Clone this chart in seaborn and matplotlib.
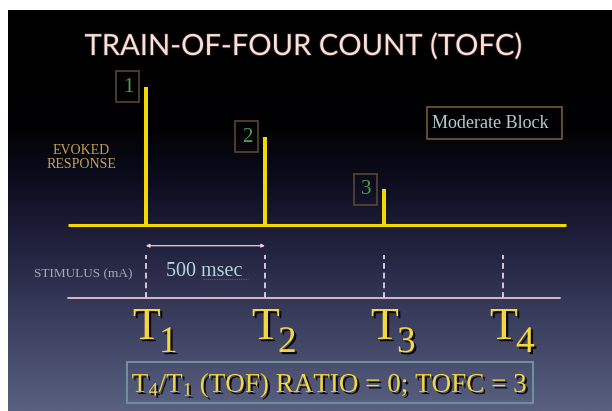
import numpy as np
import pandas as pd
import matplotlib
matplotlib.use("Agg")
import matplotlib.pyplot as plt
import seaborn as sns
from matplotlib import patheffects, transforms
from matplotlib.patches import Rectangle, FancyArrowPatch

# Evoked twitch responses to the four stimuli of a train-of-four (arbitrary units)
stimulus_index = ["1", "2", "3", "4"]
stimulus_time_ms = [0, 500, 1000, 1500]
twitch_response = [100, 64, 26, 0]

title_text = "TRAIN-OF-FOUR COUNT (TOFC)"
block_text = "Moderate Block"
response_label = "EVOKED\nRESPONSE"
stimulus_label = "STIMULUS (mA)"
interval_text = "500 msec"

sns.set_theme(style="white")
plt.rcParams["font.family"] = ["Liberation Serif", "DejaVu Serif"]
plt.rcParams["mathtext.fontset"] = "custom"
plt.rcParams["mathtext.rm"] = "Liberation Serif"
plt.rcParams["mathtext.it"] = "Liberation Serif:italic"
plt.rcParams["mathtext.bf"] = "Liberation Serif:bold"

W, H = 612, 411
fig = plt.figure(figsize=(W / 100, H / 100), dpi=100, facecolor="white")


def fx(px):
    return px / W


def fy(py):
    return 1 - py / H


PANEL = [fx(8), 0.0, 1 - fx(8), fy(10)]

YELLOW = "#f3d900"
TEXT_YELLOW = "#f4d63e"
STIM_COL = "#d9c6dc"
BOX_EDGE = "#5e4c30"
DIGIT_GREEN = "#4f9d50"

# slide background: black fading into slate blue
bg = fig.add_axes(PANEL)
stops_y = np.array([10, 130, 180, 230, 280, 330, 380, 411], float)
stops_c = np.array([[0, 0, 0], [2, 2, 4], [12, 12, 30], [28, 28, 54],
                    [44, 46, 76], [62, 66, 98], [78, 84, 116], [90, 96, 128]], float) / 255
rows = np.linspace(10, 411, 401)
grad = np.stack([np.interp(rows, stops_y, stops_c[:, k]) for k in range(3)], axis=-1)[:, None, :]
bg.imshow(grad, aspect="auto", extent=[0, 1, 0, 1], interpolation="bilinear")
bg.set_axis_off()

# main axes: x in milliseconds, y in response units
ax = fig.add_axes(PANEL, zorder=2)
ax.patch.set_alpha(0)
PX_PER_MS = 0.23804
X0_PX = 145.9
BASE_PX = 225.0
PX_PER_UNIT = 1.38


def t_at(px):
    return (px - X0_PX) / PX_PER_MS


df = pd.DataFrame({"time": stimulus_time_ms, "response": twitch_response})
sns.barplot(data=df, x="time", y="response", native_scale=True,
            width=4 / (500 * PX_PER_MS), color=YELLOW, saturation=1,
            linewidth=0, errorbar=None, ax=ax, zorder=3)
ax.set_xlim(t_at(8), t_at(612))
ax.set_ylim((BASE_PX - 411) / PX_PER_UNIT, (BASE_PX - 10) / PX_PER_UNIT)
ax.set_axis_off()

# response baseline
ax.hlines(0, t_at(68), t_at(566), colors=YELLOW, lw=2.2, zorder=3)


def to_px(t, v):
    dx, dy = ax.transData.transform((t, v))
    return dx, H - dy


shadow = [patheffects.withSimplePatchShadow(offset=(1.6, -1.6), shadow_rgbFace="black", alpha=0.85)]

# numbered boxes beside each visible twitch
for idx, t, v in zip(stimulus_index, stimulus_time_ms, twitch_response):
    if v <= 0:
        continue
    px, py = to_px(t, v)
    fig.add_artist(Rectangle((fx(px - 29.5), fy(py + 15.5)), 23 / W, 31 / H,
                             transform=fig.transFigure, fill=False,
                             ec=BOX_EDGE, lw=1.1, zorder=4))
    fig.text(fx(px - 18), fy(py + 0.5), idx, ha="center", va="center",
             fontsize=15, color=DIGIT_GREEN, zorder=5)

# stimulus row
blend = transforms.blended_transform_factory(ax.transData, fig.transFigure)
ax.vlines(stimulus_time_ms, fy(298), fy(255), transform=blend, colors=STIM_COL,
          linestyles=(0, (3, 2)), lw=1.4, zorder=3)
ax.plot([t_at(68), t_at(560)], [fy(297.7)] * 2, transform=blend,
        color="#e2c4d4", lw=1.3, zorder=3)
arrow = FancyArrowPatch((stimulus_time_ms[0] - 12, fy(245.7)), (stimulus_time_ms[1] + 12, fy(245.7)),
                        transform=blend, arrowstyle="<|-|>", mutation_scale=5,
                        color="#ecd0d8", lw=0.9, zorder=3)
ax.add_patch(arrow)

fig.text(fx(83), fy(274), stimulus_label, ha="center", va="center",
         fontsize=9.5, color="#a6a8c2")
fig.text(fx(166), fy(276), interval_text, ha="left", va="baseline",
         fontsize=14.5, color="#b6d6de")
ax.plot([t_at(203), t_at(248)], [fy(278.5)] * 2, transform=blend,
        color="#d23a3a", lw=0.8, ls=(0, (1, 1)), zorder=3)

# stimulus names T1..T4
for idx, t in zip(stimulus_index, stimulus_time_ms):
    px, _ = to_px(t, 0)
    fig.text(fx(px + 1), fy(339), "T", ha="center", va="baseline", fontsize=33,
             color=TEXT_YELLOW, path_effects=shadow)
    fig.text(fx(px + 13), fy(352), idx, ha="left", va="baseline", fontsize=27,
             color=TEXT_YELLOW, path_effects=shadow)

# response label and block label
fig.text(fx(81), fy(157.5), response_label, ha="center", va="center",
         multialignment="center", fontsize=10, linespacing=1.15, color="#c9a25a")
fig.add_artist(Rectangle((fx(427), fy(139)), 135 / W, 32 / H, transform=fig.transFigure,
                         fill=False, ec="#6e5c3a", lw=1.2))
fig.text(fx(490), fy(128), block_text, ha="center", va="baseline",
         fontsize=13, color="#b4cccc")

# title
fig.text(fx(303), fy(55), title_text, ha="center", va="baseline", fontsize=21,
         family=["Lato", "DejaVu Sans"], color="#f7e2da",
         path_effects=[patheffects.withStroke(linewidth=1.2, foreground="#3a1c1c")])

# summary: ratio and count derived from the responses
tofc = sum(1 for v in twitch_response if v > 0)
ratio = twitch_response[3] / twitch_response[0]
summary = (rf"T$_{{{stimulus_index[3]}}}$/T$_{{{stimulus_index[0]}}}$ (TOF) RATIO = "
           rf"{ratio:g}; TOFC = {tofc}")
fig.add_artist(Rectangle((fx(127), fy(403)), 406 / W, 41 / H, transform=fig.transFigure,
                         fill=False, ec="#6f9098", lw=1.5))
fig.text(fx(330), fy(392), summary, ha="center", va="baseline", fontsize=19.5,
         color=TEXT_YELLOW, path_effects=shadow)

fig.savefig("out.png", dpi=100, facecolor="white")
